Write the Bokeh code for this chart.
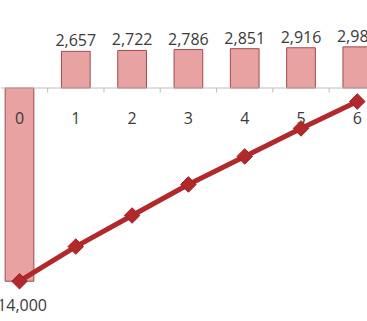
import numpy as np
from bokeh.plotting import figure
from bokeh.models import Range1d, ColumnDataSource, Span
from bokeh.core.properties import value
from bokeh.embed import file_html
from bokeh.resources import INLINE

years = [0, 1, 2, 3, 4, 5, 6]
cash_flow = [-14000, 2657, 2722, 2786, 2851, 2916, 2981]
cumulative = [-14000, -11490, -9240, -6990, -4960, -2930, -980]

labels = [f"{v:,}" for v in cash_flow]
pos = [v >= 0 for v in cash_flow]

p = figure(width=367, height=321, output_backend="svg", toolbar_location=None,
           x_range=Range1d(-0.3375, 6.181), y_range=Range1d(-16920, 6341),
           min_border=0, min_border_left=0, min_border_right=0,
           min_border_top=0, min_border_bottom=0)
p.xaxis.visible = False
p.yaxis.visible = False
p.grid.visible = False
p.outline_line_color = None
p.background_fill_color = "white"
p.border_fill_color = "white"

src = ColumnDataSource(dict(x=years, cf=cash_flow, cum=cumulative, lab=labels))

p.vbar(x="x", top="cf", bottom=0, width=0.51, source=src,
       fill_color="#E8A2A2", line_color="#A24A4C", line_width=1)

# horizontal axis at zero with tick marks between categories
p.add_layout(Span(location=0, dimension="width", line_color="#BDBDBD", line_width=1))
tick_x = [x + 0.5 for x in years]
p.segment(x0=tick_x, y0=[0] * len(tick_x), x1=tick_x, y1=[-330] * len(tick_x),
          line_color="#BDBDBD", line_width=1)

# category labels
p.text(x=years, y=[0] * len(years), text=[str(y) for y in years],
       text_font=value("Open Sans"), text_font_size="16px", text_color="#3A3A3A",
       text_align="center", text_baseline="alphabetic", y_offset=29.5)

# value labels
px = [x for x, s in zip(years, pos) if s]
py = [v for v, s in zip(cash_flow, pos) if s]
pl = [l for l, s in zip(labels, pos) if s]
p.text(x=px, y=py, text=pl, text_font=value("Open Sans"), text_font_size="16px",
       text_color="#3A3A3A", text_align="center", text_baseline="alphabetic", y_offset=-11)
nx = [x for x, s in zip(years, pos) if not s]
ny = [v for v, s in zip(cash_flow, pos) if not s]
nl = [l for l, s in zip(labels, pos) if not s]
p.text(x=nx, y=ny, text=nl, text_font=value("Open Sans"), text_font_size="16px",
       text_color="#3A3A3A", text_align="center", text_baseline="alphabetic", y_offset=24)

# cumulative line
p.line(x="x", y="cum", source=src, line_color="#B2292C", line_width=5)
p.scatter(x="x", y="cum", source=src, marker="square", angle=np.pi / 4, size=11,
          fill_color="#B2292C", line_color="#9E2226", line_width=1)

open("out.html", "w").write(file_html(p, INLINE))
